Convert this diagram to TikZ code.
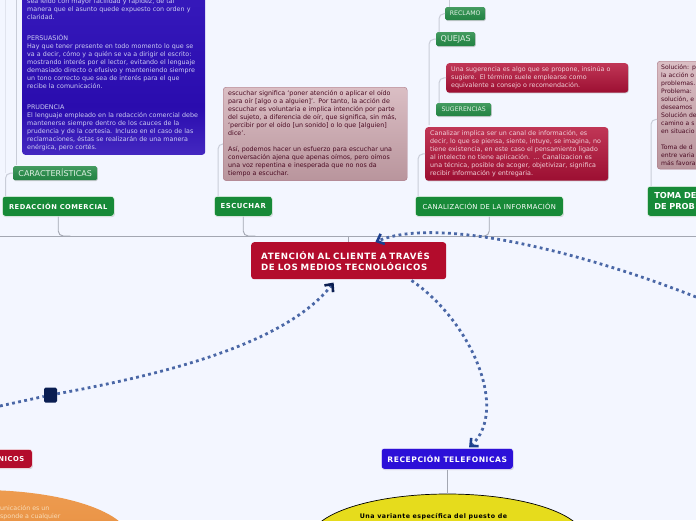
\documentclass[tikz,border=0pt]{standalone}
\usepackage{fontspec}
\setmainfont{DejaVu Sans}
\usetikzlibrary{shapes.geometric,arrows.meta,shadows}
\definecolor{pagebg}{HTML}{F3F6FF}
\definecolor{lineA}{HTML}{C9CDD8}
\definecolor{lineC}{HTML}{E1E4EE}
\definecolor{lineB}{HTML}{A3A7B2}
\definecolor{dotc}{HTML}{4A67A6}
\definecolor{navy}{HTML}{0A1E52}
\definecolor{tipb}{HTML}{1C3F8E}
\definecolor{gmain}{HTML}{178A38}
\definecolor{rmain}{HTML}{B30C2C}
\definecolor{bmain}{HTML}{2C10D8}
\definecolor{pu1}{HTML}{7C68EA}\definecolor{pu2}{HTML}{5A40D0}\definecolor{pu3}{HTML}{2A0CAE}\definecolor{pu4}{HTML}{3E22C4}
\definecolor{pk1}{HTML}{D9BBC2}\definecolor{pk2}{HTML}{B08A92}\definecolor{pk3}{HTML}{EBD3D8}
\definecolor{rd1}{HTML}{C24A66}\definecolor{rd2}{HTML}{94062A}\definecolor{rd3}{HTML}{D24A68}
\definecolor{gr1}{HTML}{1B7A3A}\definecolor{gr2}{HTML}{2E8C4E}\definecolor{gr3}{HTML}{5AAA72}
\definecolor{or1}{HTML}{DD7C2A}\definecolor{or2}{HTML}{F3A65C}
\definecolor{pinkedge}{HTML}{A87482}
\definecolor{pinktext}{HTML}{4A0A22}
\definecolor{redtext}{HTML}{F0D0D8}
\definecolor{greentext}{HTML}{E0F0E4}
\definecolor{purpletext}{HTML}{CCCCF2}
\definecolor{orangetext}{HTML}{F8DDB8}
\definecolor{yellowfill}{HTML}{E6DC1C}
\pgfdeclareverticalshading{purpleshade}{100bp}{color(0bp)=(pu1); color(12bp)=(pu2); color(40bp)=(pu3); color(100bp)=(pu4)}
\pgfdeclareverticalshading{pinkshade}{100bp}{color(0bp)=(pk1); color(12bp)=(pk2); color(100bp)=(pk3)}
\pgfdeclareverticalshading{redshade}{100bp}{color(0bp)=(rd1); color(14bp)=(rd2); color(100bp)=(rd3)}
\pgfdeclareverticalshading{greenshade}{100bp}{color(0bp)=(gr1); color(50bp)=(gr2); color(100bp)=(gr3)}
\pgfdeclareverticalshading{orangeshade}{100bp}{color(0bp)=(or1); color(100bp)=(or2)}
\newfontface\boldspaced[LetterSpace=7]{DejaVu Sans Bold}
\newfontface\regspaced[LetterSpace=5]{DejaVu Sans}
\tikzset{
  x=1pt,y=-1pt,
  softshadow/.style={drop shadow={shadow xshift=.6pt,shadow yshift=-.8pt,opacity=.35,fill=gray}},
  infobox/.style={rectangle,rounded corners=3pt,align=left,inner xsep=5pt,inner ysep=3.5pt,anchor=north west,
    font=\fontsize{6.35}{8}\selectfont},
  pinkbox/.style={infobox,shade,shading=pinkshade,draw=pinkedge,text=pinktext},
  redbox/.style={infobox,shade,shading=redshade,text=redtext,softshadow},
  greenlabel/.style={rectangle,rounded corners=1.5pt,shade,shading=greenshade,text=greentext,inner sep=0pt,
    anchor=north west,softshadow},
  mainbox/.style={rectangle,rounded corners=3pt,text=white,inner sep=0pt,anchor=north west,softshadow,draw=white,line width=.5pt},
  twig/.style={draw=lineA,line width=1pt,rounded corners=5pt},
  stem/.style={draw=lineB,line width=.9pt,rounded corners=5pt},
  dotline/.style={draw=dotc,line width=2.8pt,dash pattern=on 2.8pt off 3.4pt},
  barbA/.style={-{Straight Barb[length=6pt,width=11pt,line width=2.6pt,color=#1]}},
}
\begin{document}
\begin{tikzpicture}
\clip (0,0) rectangle (696,520);
\fill[pagebg] (0,0) rectangle (696,520);

% ---- free ends
\coordinate (ruleL) at (0,236);
\coordinate (ruleR) at (696,236);
\coordinate (topA) at (16.5,0);
\coordinate (topB) at (439,0);
\coordinate (topC) at (449,0);
\coordinate (topD) at (5.5,0);
\coordinate (trunkQ) at (429,125);
\coordinate (edgeL) at (0,406);
\coordinate (edgeR) at (696,297);

% ---- nodes
\node[infobox,anchor=south west,shade,shading=purpleshade,text=purpletext,text width=173pt] (caract) at (22,155) {%
sea leído con mayor facilidad y rapidez, de tal\\
manera que el asunto quede expuesto con orden y\\
claridad.\\[13pt]
PERSUASIÓN\\
Hay que tener presente en todo momento lo que se\\
va a decir, cómo y a quién se va a dirigir el escrito:\\
mostrando interés por el lector, evitando el lenguaje\\
demasiado directo o efusivo y manteniendo siempre\\
un tono correcto que sea de interés para el que\\
recibe la comunicación.\\[13pt]
PRUDENCIA\\
El lenguaje empleado en la redacción comercial debe\\
mantenerse siempre dentro de los cauces de la\\
prudencia y de la cortesía. Incluso en el caso de las\\
reclamaciones, éstas se realizarán de una manera\\
enérgica, pero cortés.};

\node[greenlabel,minimum width=84pt,minimum height=14pt,font=\fontsize{8}{9}\selectfont] (caracl) at (13,166) {CARACTERÍSTICAS};
\node[mainbox,fill=gmain,minimum width=112pt,minimum height=20pt,font=\boldspaced\fontsize{6.7}{8}\selectfont] (redac) at (2,196) {REDACCIÓN COMERCIAL};

\node[pinkbox,text width=174pt] (escbox) at (223,87) {%
escuchar significa ‘poner atención o aplicar el oído\\
para oír [algo o a alguien]’. Por tanto, la acción de\\
escuchar es voluntaria e implica intención por parte\\
del sujeto, a diferencia de oír, que significa, sin más,\\
‘percibir por el oído [un sonido] o lo que [alguien]\\
dice’.\\[8pt]
Así, podemos hacer un esfuerzo para escuchar una\\
conversación ajena que apenas oímos, pero oímos\\
una voz repentina e inesperada que no nos da\\
tiempo a escuchar.};
\node[mainbox,fill=gmain,minimum width=58pt,minimum height=20pt,font=\boldspaced\fontsize{6.9}{8}\selectfont] (escu) at (214,196) {ESCUCHAR};

\node[greenlabel,minimum width=40pt,minimum height=13pt,font=\fontsize{6.2}{8}\selectfont] (reclamo) at (445,7) {RECLAMO};
\node[greenlabel,minimum width=39pt,minimum height=14pt,font=\fontsize{8}{9}\selectfont] (quejas) at (436,32) {QUEJAS};
\node[redbox,text width=172pt] (sugbox) at (446,63) {%
Una sugerencia es algo que se propone, insinúa o\\
sugiere. El término suele emplearse como\\
equivalente a consejo o recomendación.};
\node[greenlabel,minimum width=55pt,minimum height=13pt,font=\fontsize{6.2}{8}\selectfont] (suger) at (436,103) {SUGERENCIAS};
\node[redbox,text width=173pt] (canbox) at (425,127) {%
Canalizar implica ser un canal de información, es\\
decir, lo que se piensa, siente, intuye, se imagina, no\\
tiene existencia, en este caso el pensamiento ligado\\
al intelecto no tiene aplicación. ... Canalizacion es\\
una técnica, posible de acoger, objetivizar, significa\\
recibir información y entregaria.};
\node[mainbox,fill=gmain,minimum width=148pt,minimum height=20pt,font=\regspaced\fontsize{6.8}{8}\selectfont] (canal) at (415,196) {CANALIZACIÓN DE LA INFORMACIÓN};

\node[pinkbox,text width=60pt,inner xsep=4pt,font=\fontsize{6.1}{8}\selectfont] (solbox) at (657,61) {%
Solución: p\\
la acción o\\
problemas.\\
Problema:\\
solución, e\\
deseamos\\
Solución de\\
camino a s\\
en situacio\\[8pt]
Toma de d\\
entre varia\\
más favora};
\node[mainbox,fill=gmain,minimum width=70pt,minimum height=30pt,font=\bfseries\fontsize{8.2}{11}\selectfont,align=left,text width=62pt,inner xsep=7pt] (toma) at (647,186) {TOMA DE\\DE PROB};

\node[rectangle,rounded corners=3pt,fill=rmain,text=white,anchor=north west,align=left,minimum height=37pt,text width=175pt,inner xsep=10pt,inner ysep=0pt,font=\boldspaced\fontsize{8.65}{11}\selectfont] (main) at (251,242) {ATENCIÓN AL CLIENTE A TRAVÉS\\DE LOS MEDIOS TECNOLÓGICOS};

\node[mainbox,fill=bmain,minimum width=132pt,minimum height=21pt,font=\boldspaced\fontsize{7.6}{8}\selectfont] (recep) at (381,448) {RECEPCIÓN TELEFONICAS};
\node[mainbox,fill=rmain,minimum height=19pt,align=right,text width=72pt,font=\boldspaced\fontsize{6.8}{8}\selectfont] (left) at (-40,449) {NICOS\hspace*{8pt}};

\node[ellipse,inner sep=0pt,minimum width=300pt,minimum height=100pt,shade,shading=orangeshade] (orange) at (-20,540) {};
\node[anchor=west,inner sep=0pt,align=left,text=orangetext,font=\fontsize{6.3}{8}\selectfont] (orangetxt) at (0,513) {unicación es un\\sponde a cualquier};

\node[ellipse,inner sep=0pt,minimum width=274pt,minimum height=90pt,fill=yellowfill,draw=black,line width=.7pt] (yellow) at (447.5,539) {};
\node[anchor=base,inner sep=0pt,text=black,font=\boldspaced\fontsize{6.3}{8}\selectfont] (yellowtxt) at (433.5,518.5) {Una variante específica del puesto de};

\node[rectangle,rounded corners=1.5pt,fill=navy,minimum width=13pt,minimum height=15pt,inner sep=0pt] (square) at (50.5,395) {};

% ---- connectors
\draw[draw=lineC,line width=.8pt] (caracl.west -| topD) -- (topD);
\draw[stem] (ruleL) -- (ruleR);
\draw[stem] (main.north) -- (main.north |- ruleL);
\draw[stem] (redac.south) |- ([xshift=12pt]redac.south |- ruleL);
\draw[stem] (escu.south) |- ([xshift=12pt]escu.south |- ruleL);
\draw[stem] (canal.south) |- ([xshift=-12pt]canal.south |- ruleL);
\draw[twig] ([xshift=3.5pt]redac.north west) |- (caracl.west);
\draw[twig] (caract.south -| topA) ++(0,10) -- (topA);
\draw[twig] ([xshift=4pt]escu.north west) |- ([yshift=-10pt]escbox.west);
\draw[twig] ([xshift=3pt]canal.north west) |- (canbox.west);
\draw[twig] (trunkQ) |- (quejas.west);
\draw[twig] ([xshift=3pt]suger.north west) |- (sugbox.west);
\draw[twig] ([xshift=3pt]quejas.north west) |- (reclamo.west);
\draw[twig] (reclamo.north -| topC) -- (topC);
\draw[twig] ([xshift=4pt]toma.north west) |- ([yshift=50pt]solbox.south west);
\draw[stem] (recep.south) -- (yellow.north -| recep.south);

\draw[dotline] (edgeL) -- (square);
\draw[dotline,barbA=navy,shorten >=4pt] (square) .. controls (160,375) and (285,345) .. (main.-124);
\draw[dotline,barbA=tipb,shorten <=2pt,shorten >=1pt] (main.-17) .. controls (470,320) and (510,410) .. (recep.27);
\draw[dotline,barbA=tipb] (edgeR) .. controls (590,255) and (440,215) .. (main.35);
\end{tikzpicture}
\end{document}
